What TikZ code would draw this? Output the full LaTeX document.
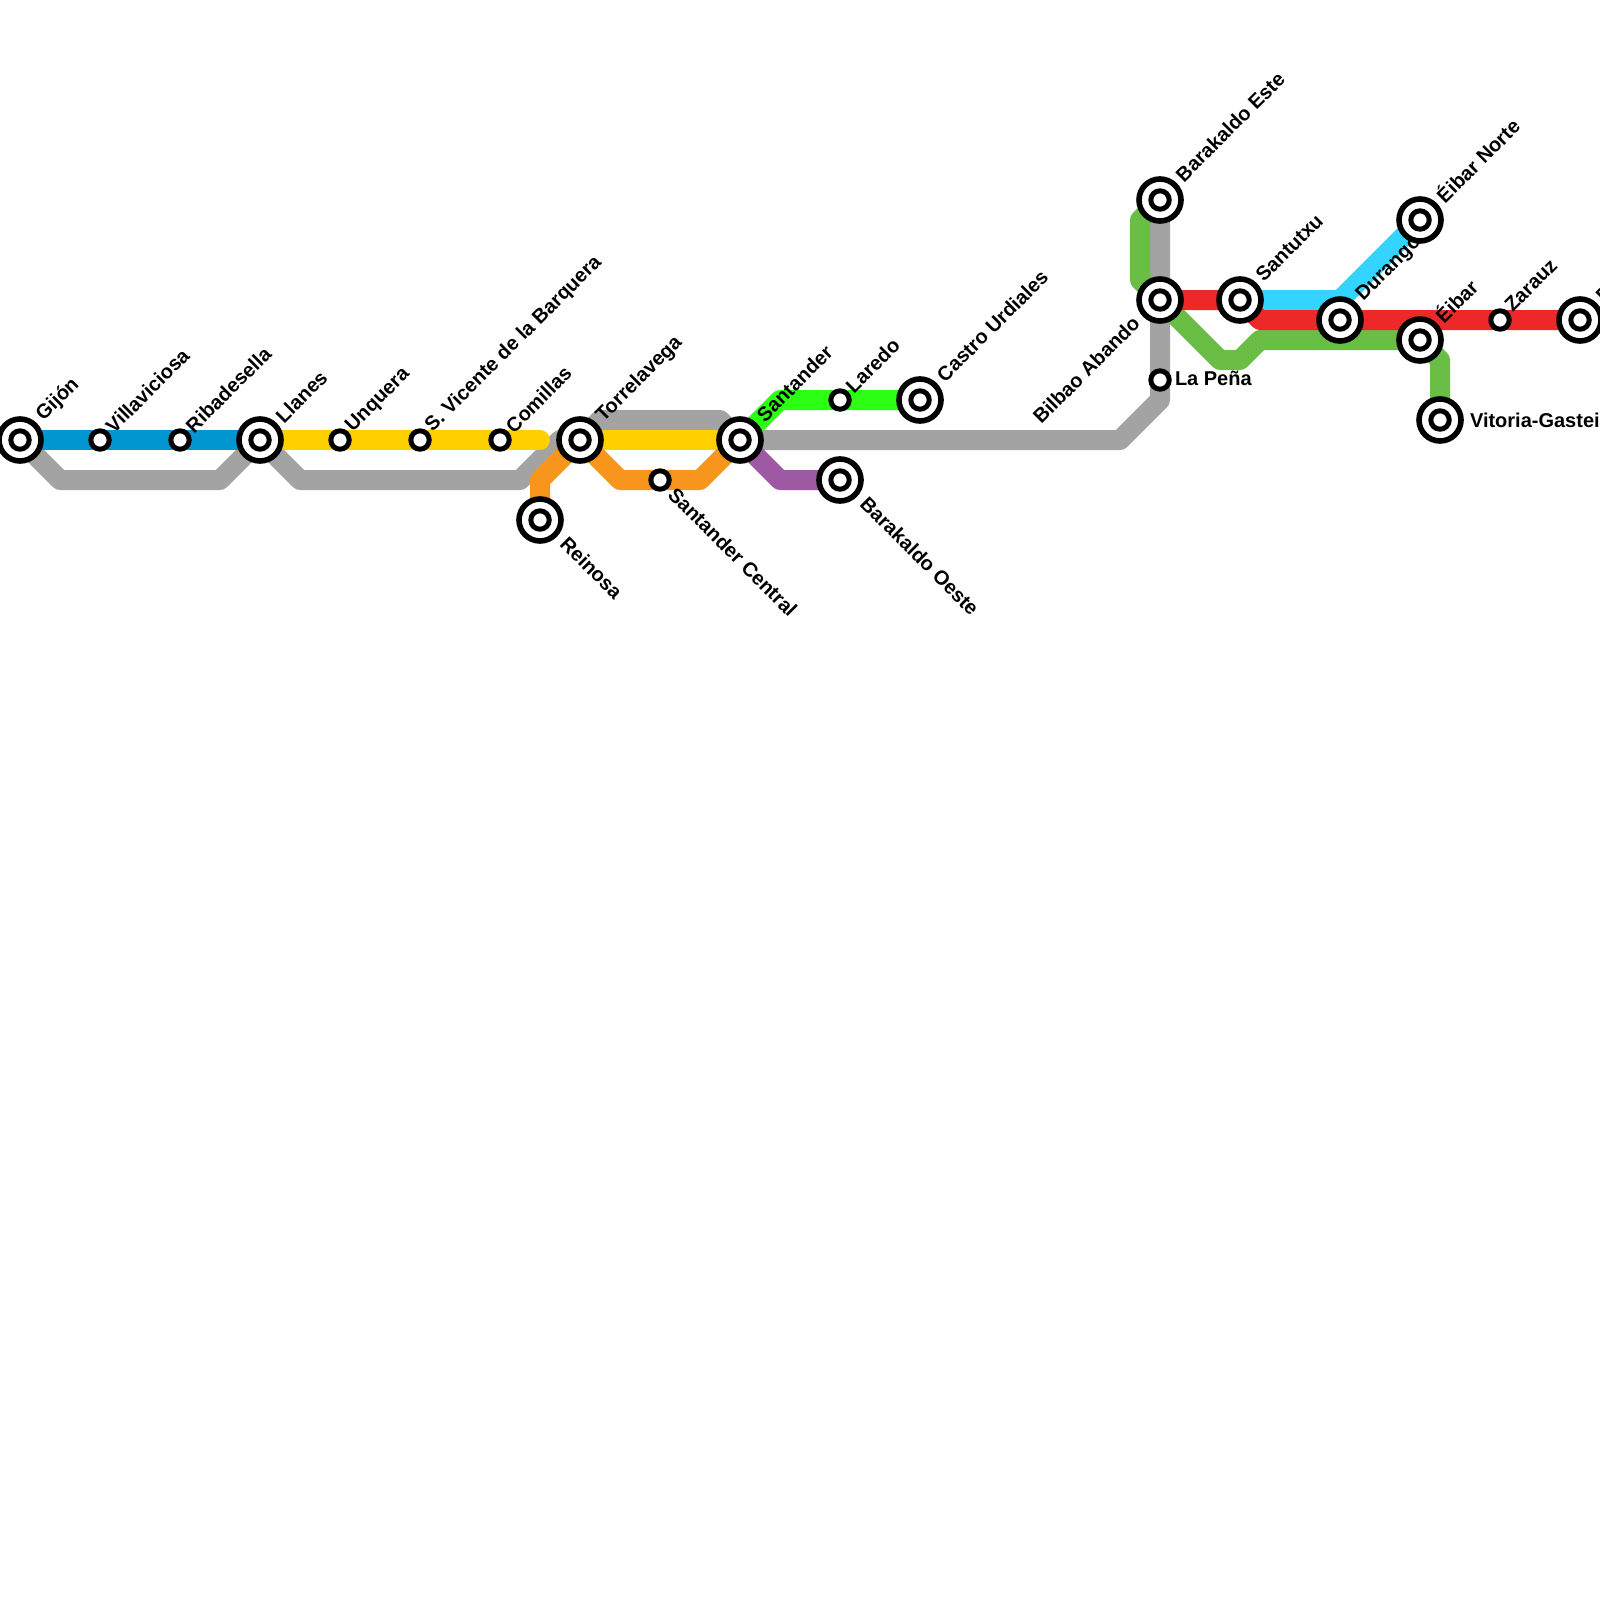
\documentclass[tikz,border=0pt]{standalone}
\usepackage{fontspec}
\setmainfont{Liberation Sans}[BoldFont={Liberation Sans Bold}]
\definecolor{cblue}{HTML}{0296D1}
\definecolor{cgrey}{HTML}{A3A3A3}
\definecolor{cyellow}{HTML}{FFD000}
\definecolor{corange}{HTML}{F8951D}
\definecolor{cpurple}{HTML}{9D5AA3}
\definecolor{clime}{HTML}{2CFF14}
\definecolor{cgreen}{HTML}{6ABD45}
\definecolor{cred}{HTML}{EC2828}
\definecolor{ccyan}{HTML}{33D4FF}
\tikzset{
  x=1pt,y=-1pt,
  metro/.style={line width=20pt,line join=round,line cap=butt},
  bigst/.style={circle,draw=black,fill=white,line width=5.6pt,minimum size=42pt,inner sep=0pt,outer sep=0pt,
    path picture={\draw[black,line width=5pt] (path picture bounding box.center) circle[radius=9.2pt];}},
  smallst/.style={circle,draw=black,fill=white,line width=5pt,minimum size=18.4pt,inner sep=0pt,outer sep=0pt},
  lab/.style={font=\fontsize{20}{23}\selectfont\bfseries,inner sep=0pt,outer sep=0pt,text=black},
  up/.style={lab,rotate=45,anchor=west},
  dn/.style={lab,rotate=-45,anchor=west},
  upend/.style={lab,rotate=45,anchor=east},
  flat/.style={lab,anchor=west},
}
\begin{document}
\begin{tikzpicture}
\useasboundingbox (0,0) rectangle (1600,1600);
\clip (0,0) rectangle (1600,1600);
\fill[white] (0,0) rectangle (1600,1600);
\coordinate (gi) at (20,440);
\coordinate (vi) at (100,440);
\coordinate (ri) at (180,440);
\coordinate (ll) at (260,440);
\coordinate (un) at (340,440);
\coordinate (sv) at (420,440);
\coordinate (co) at (500,440);
\coordinate (to) at (580,440);
\coordinate (sa) at (740,440);
\coordinate (re) at (540,520);
\coordinate (sc) at (660,480);
\coordinate (la) at (840,400);
\coordinate (ca) at (920,400);
\coordinate (bo) at (840,480);
\coordinate (bi) at (1160,300);
\coordinate (be) at (1160,200);
\coordinate (lp) at (1160,380);
\coordinate (st) at (1240,300);
\coordinate (du) at (1340,320);
\coordinate (en) at (1420,220);
\coordinate (ei) at (1420,340);
\coordinate (za) at (1500,320);
\coordinate (ir) at (1580,320);
\coordinate (vg) at (1440,420);
\coordinate (yend) at (540,440);
% lines
\draw[metro,cgrey] (gi) -- (60,480) -- (220,480) -- (ll) -- (300,480) -- (520,480) -- (560,440) -- (to) -- (600,420) -- (720,420) -- (sa) -- (1120,440) -- (1160,400) -- (be);
\draw[metro,cgreen] (be) -- (1140,220) -- (1140,280) -- (bi) -- (1220,360) -- (1240,360) -- (1260,340) -- (ei) -- (1440,360) -- (vg);
\draw[metro,ccyan] (st) -- (1340,300) -- (en);
\draw[metro,cblue] (gi) -- (ll);
\draw[metro,cyellow,line cap=round] (ll) -- (yend);
\draw[metro,cyellow] (to) -- (sa);
\draw[metro,corange] (re) -- (540,480) -- (to) -- (620,480) -- (700,480) -- (sa);
\draw[metro,cpurple] (sa) -- (780,480) -- (bo);
\draw[metro,clime] (sa) -- (780,400) -- (ca);
\draw[metro,cred] (bi) -- (st) -- (1260,320) -- (ir);
% stations
\node[bigst] (ngi) at (gi) {};
\node[smallst] (nvi) at (vi) {};
\node[smallst] (nri) at (ri) {};
\node[bigst] (nll) at (ll) {};
\node[smallst] (nun) at (un) {};
\node[smallst] (nsv) at (sv) {};
\node[smallst] (nco) at (co) {};
\node[bigst] (nto) at (to) {};
\node[bigst] (nsa) at (sa) {};
\node[bigst] (nre) at (re) {};
\node[smallst] (nsc) at (sc) {};
\node[smallst] (nla) at (la) {};
\node[bigst] (nca) at (ca) {};
\node[bigst] (nbo) at (bo) {};
\node[bigst] (nbi) at (bi) {};
\node[bigst] (nbe) at (be) {};
\node[smallst] (nlp) at (lp) {};
\node[bigst] (nst) at (st) {};
\node[bigst] (ndu) at (du) {};
\node[bigst] (nen) at (en) {};
\node[bigst] (nei) at (ei) {};
\node[smallst] (nza) at (za) {};
\node[bigst] (nir) at (ir) {};
\node[bigst] (nvg) at (vg) {};
% labels
\node[up] (lgi) at (40,418) {Gijón};
\node[up] (lvi) at (109,429) {Villaviciosa};
\node[up] (lri) at (189,429) {Ribadesella};
\node[up] (lll) at (279,419) {Llanes};
\node[up] (lun) at (349.5,429) {Unquera};
\node[up] (lsv) at (429,429) {S. Vicente de la Barquera};
\node[up] (lco) at (509,429) {Comillas};
\node[up] (lto) at (600,419) {Torrelavega};
\node[up] (lsa) at (760,418) {Santander};
\node[up] (lla) at (849,389) {Laredo};
\node[up] (lca) at (940,378) {Castro Urdiales};
\node[up] (lbe) at (1179,178) {Barakaldo Este};
\node[up] (lst) at (1259,278) {Santutxu};
\node[up] (ldu) at (1360,298) {Durango};
\node[up] (len) at (1439,198) {Éibar Norte};
\node[up] (lei) at (1438,318) {Éibar};
\node[up] (lza) at (1508,308) {Zarauz};
\node[up] (lir) at (1599,298) {Donostia};
\node[dn] (lre) at (564,540) {Reinosa};
\node[dn] (lsc) at (672,491) {Santander Central};
\node[dn] (lbo) at (864,500) {Barakaldo Oeste};
\node[upend] (lbi) at (1136,320) {Bilbao Abando};
\node[flat] (llp) at (1175,378) {La Peña};
\node[flat] (lvg) at (1470,420) {Vitoria-Gasteiz};
\end{tikzpicture}
\end{document}
